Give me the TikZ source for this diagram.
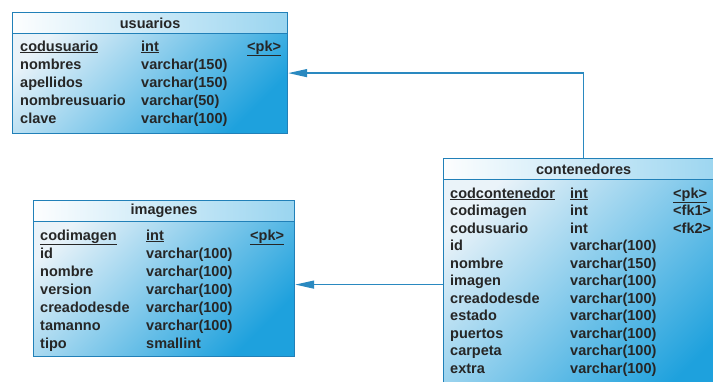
\documentclass[tikz,border=0pt]{standalone}
\usepackage{fontspec}
\setmainfont{Liberation Sans}
\usetikzlibrary{arrows.meta, positioning}
\definecolor{borde}{HTML}{2180B8}
\definecolor{linea}{HTML}{2A89C0}
\definecolor{claro}{HTML}{EAF3F9}
\definecolor{azul}{HTML}{1EA1DD}
\definecolor{texto}{HTML}{262626}

\begin{document}
\begin{tikzpicture}[x=1pt,y=-1pt,
  tabla/.style={draw=borde, line width=1.2pt, anchor=north west, inner sep=0pt,
    top color=claro, bottom color=azul, shading angle=45},
  cabecera/.style={draw=borde, line width=1.2pt, anchor=north west, inner sep=0pt,
    minimum height=21pt, left color=white!90!claro, right color=azul!45,
    font=\fontsize{14.5}{18}\selectfont\bfseries, text=texto},
  campo/.style={anchor=base west, inner sep=0pt, font=\fontsize{14.5}{18}\selectfont\bfseries, text=texto},
  rel/.style={draw=linea, line width=1.4pt, -{Triangle[length=19pt,width=8pt]}}]
  \clip (0,0) rectangle (713,381);

  % usuarios
  \node[tabla, minimum width=275pt, minimum height=121pt] (usuarios) at (12,12) {};
  \node[cabecera, minimum width=275pt] (usuarios-t) at (usuarios.north west) {usuarios};
  \foreach \c/\t/\k [count=\i] in {\underline{codusuario}/\underline{int}/\underline{<pk>},
      nombres/varchar(150)/{}, apellidos/varchar(150)/{},
      nombreusuario/varchar(50)/{}, clave/varchar(100)/{}} {
    \node[campo] (usuarios-c\i) at (20,{51+18*(\i-1)}) {\c};
    \node[campo] (usuarios-d\i) at (141,{51+18*(\i-1)}) {\t};
    \node[campo] (usuarios-k\i) at (247,{51+18*(\i-1)}) {\k};
  }

  % imagenes
  \node[tabla, minimum width=261pt, minimum height=156pt] (imagenes) at (33,200) {};
  \node[cabecera, minimum width=261pt] (imagenes-t) at (imagenes.north west) {imagenes};
  \foreach \c/\t/\k [count=\i] in {\underline{codimagen}/\underline{int}/\underline{<pk>},
      id/varchar(100)/{}, nombre/varchar(100)/{}, version/varchar(100)/{},
      creadodesde/varchar(100)/{}, tamanno/varchar(100)/{}, tipo/smallint/{}} {
    \node[campo] (imagenes-c\i) at (40,{240+18*(\i-1)}) {\c};
    \node[campo] (imagenes-d\i) at (146,{240+18*(\i-1)}) {\t};
    \node[campo] (imagenes-k\i) at (250,{240+18*(\i-1)}) {\k};
  }

  % contenedores
  \node[tabla, minimum width=280pt, minimum height=252pt] (contenedores) at (443,158) {};
  \node[cabecera, minimum width=280pt] (contenedores-t) at (contenedores.north west) {contenedores};
  \foreach \c/\t/\k [count=\i] in {\underline{codcontenedor}/\underline{int}/\underline{<pk>},
      codimagen/int/<fk1>, codusuario/int/<fk2>, id/varchar(100)/{},
      nombre/varchar(150)/{}, imagen/varchar(100)/{}, creadodesde/varchar(100)/{},
      estado/varchar(100)/{}, puertos/varchar(100)/{}, carpeta/varchar(100)/{},
      extra/varchar(100)/{}} {
    \node[campo] (contenedores-c\i) at (450,{198+17.5*(\i-1)}) {\c};
    \node[campo] (contenedores-d\i) at (570,{198+17.5*(\i-1)}) {\t};
    \node[campo] (contenedores-k\i) at (673,{198+17.5*(\i-1)}) {\k};
  }

  % referencias
  \draw[rel] (contenedores.north) |- (usuarios.east);
  \draw[rel] (contenedores.west) -- (imagenes.east |- contenedores.west);
\end{tikzpicture}
\end{document}
